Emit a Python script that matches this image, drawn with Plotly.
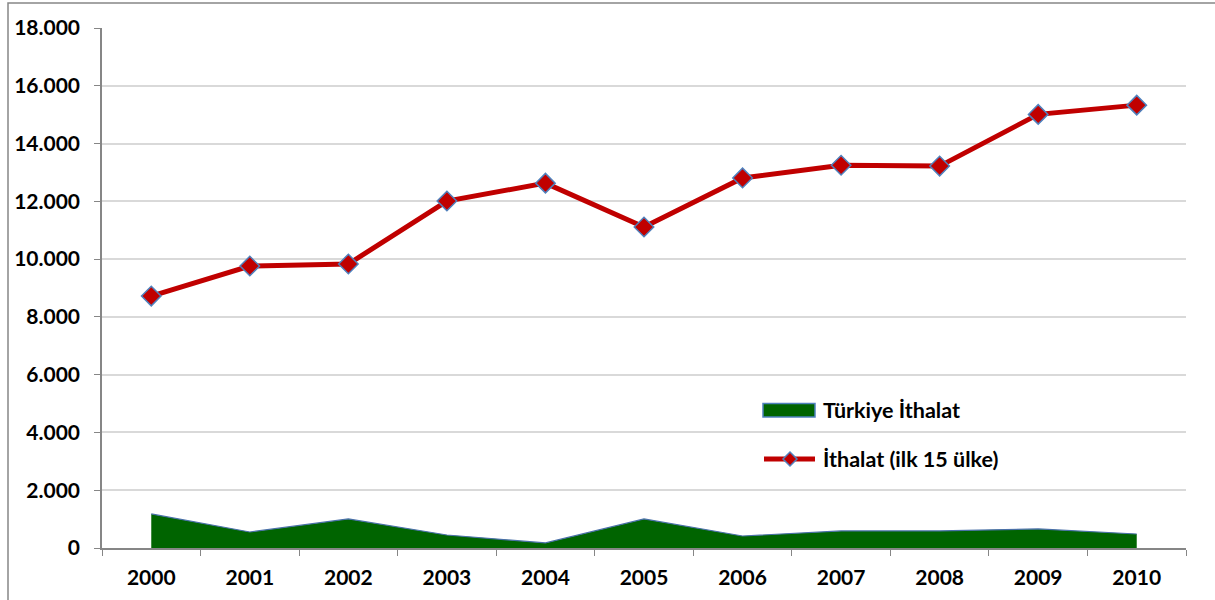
import plotly.graph_objects as go

years = ["2000", "2001", "2002", "2003", "2004", "2005", "2006", "2007", "2008", "2009", "2010"]
ithalat_15 = [8720, 9760, 9830, 12010, 12630, 11110, 12810, 13250, 13220, 15010, 15330]
turkiye = [1180, 555, 1005, 450, 175, 1005, 415, 590, 590, 660, 485]
ytick_vals = [0, 2000, 4000, 6000, 8000, 10000, 12000, 14000, 16000, 18000]
ytick_text = ["0", "2.000", "4.000", "6.000", "8.000", "10.000", "12.000", "14.000", "16.000", "18.000"]
series_names = ["Türkiye İthalat", "İthalat (ilk 15 ülke)"]

FONT = "Lato"
GREEN = "#006400"
RED = "#c00000"
BLUE = "#4f81bd"

# plot area in pixels (for placing the hand-drawn legend)
L, R, T, B = 102, 29, 28, 52
W, H = 1215, 600
PW, PH = W - L - R, H - T - B


def px(x):
    return (x - L) / PW


def py(y):
    return (H - B - y) / PH


fig = go.Figure()
fig.add_trace(go.Scatter(
    x=years, y=turkiye, name=series_names[0], mode="lines",
    fill="tozeroy", fillcolor=GREEN,
    line=dict(color="#4a70a8", width=1.2),
))
fig.add_trace(go.Scatter(
    x=years, y=ithalat_15, name=series_names[1], mode="lines+markers",
    line=dict(color=RED, width=5),
    marker=dict(symbol="diamond", size=15, color=RED,
                line=dict(color=BLUE, width=1.5)),
))

shapes = [
    # outer frame
    dict(type="rect", xref="paper", yref="paper",
         x0=px(8), x1=px(1240), y0=py(3), y1=py(640),
         line=dict(color="#868686", width=1.5), fillcolor="rgba(0,0,0,0)", layer="below"),
    # legend: area swatch
    dict(type="rect", xref="paper", yref="paper",
         x0=px(763), x1=px(815), y0=py(417), y1=py(403.5),
         line=dict(color=BLUE, width=1.5), fillcolor=GREEN),
    # legend: line swatch
    dict(type="line", xref="paper", yref="paper",
         x0=px(764), x1=px(815), y0=py(459), y1=py(459),
         line=dict(color=RED, width=5)),
    # legend: diamond
    dict(type="path", xref="paper", yref="paper",
         path="M {a},{cy} L {cx},{b} L {c},{cy} L {cx},{d} Z".format(
             a=px(783), c=px(797), cx=px(790), cy=py(459), b=py(452), d=py(466)),
         line=dict(color=BLUE, width=1.5), fillcolor=RED),
]

annotations = [
    dict(xref="paper", yref="paper", x=px(821), y=py(410), xanchor="left", yanchor="middle",
         text=series_names[0], showarrow=False,
         font=dict(family=FONT, size=21.5, color="black", weight="bold")),
    dict(xref="paper", yref="paper", x=px(821), y=py(459), xanchor="left", yanchor="middle",
         text=series_names[1], showarrow=False,
         font=dict(family=FONT, size=21.5, color="black", weight="bold")),
]

fig.update_layout(
    width=W, height=H,
    margin=dict(l=L, r=R, t=T, b=B),
    paper_bgcolor="white", plot_bgcolor="white",
    font=dict(family=FONT, size=21, color="black", weight="bold"),
    showlegend=False,
    xaxis=dict(
        type="category", range=[-0.5, 10.5],
        showline=True, linecolor="#868686", linewidth=1.5,
        ticks="outside", tickson="boundaries", ticklen=6, tickcolor="#868686",
        showgrid=False, ticklabelstandoff=10,
        tickfont=dict(family=FONT, size=21, weight="bold"),
    ),
    yaxis=dict(
        range=[0, 18000], tickvals=ytick_vals, ticktext=ytick_text,
        showline=True, linecolor="#868686", linewidth=1.5,
        ticks="outside", ticklen=6, tickcolor="#868686",
        showgrid=True, gridcolor="#d9d9d9", gridwidth=1.5,
        zeroline=False, ticklabelstandoff=10,
        tickfont=dict(family=FONT, size=21, weight="bold"),
    ),
    shapes=shapes,
    annotations=annotations,
)

fig.write_html("out.html", config={"displayModeBar": False},
               post_script="document.body.style.margin='0px';")
